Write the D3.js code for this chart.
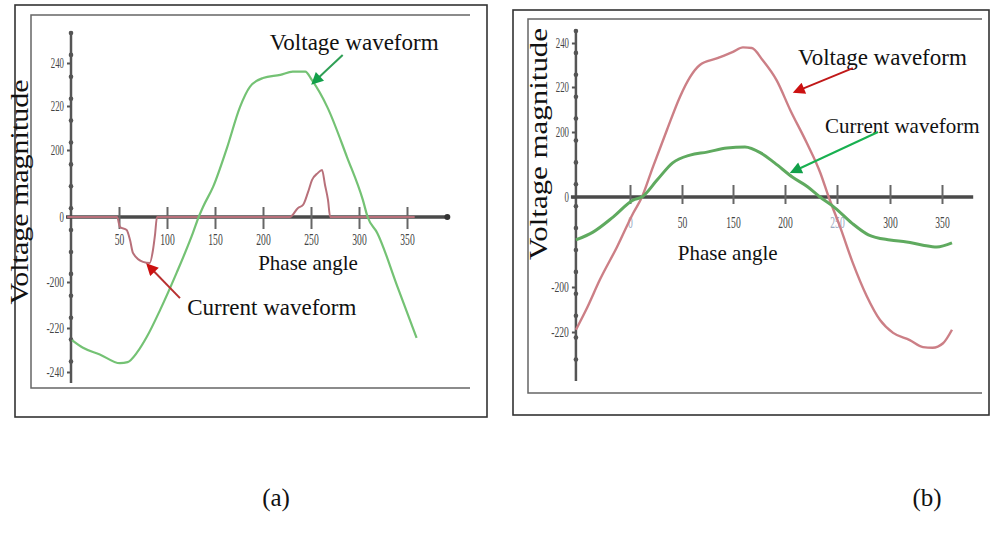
<!DOCTYPE html>
<html>
<head>
<meta charset="utf-8">
<script src="https://cdn.jsdelivr.net/npm/d3@7"></script>
<style>
body { margin: 0; background: #fff; }
svg { display: block; font-family: "Liberation Serif", "Times New Roman", serif; }
</style>
</head>
<body>
<div id="chart"></div>
<script>
// ---- panel (a) ----
var xTicksA = [50, 100, 150, 200, 250, 300, 350];
var yTicksA = [-240, -220, -200, 0, 200, 220, 240];
var voltPhaseA = [1, 12.5, 30, 51, 59, 69, 79, 93, 110, 127, 133, 137.5, 148, 162.5, 176, 186.5, 200, 218, 231, 244, 251, 267, 287.5, 304, 309, 319, 340, 360];
var voltA = [-225.5, -229, -232, -236, -235.5, -231, -224, -212, -172, -49, 0, 30, 90, 201, 219.5, 229, 233, 234.5, 236, 236, 232, 219.5, 179, 51, 0, -49, -202, -224.5];
var currPhaseA = [-4, 48, 51, 58, 61.5, 64.6, 75, 82, 85.4, 87.5, 89.6, 228, 236.5, 241.7, 247, 251, 257, 261.5, 264.6, 267.7, 270, 358];
var currA = [0, 0, -31, -40, -71, -111, -138, -141.5, -101.5, -55, 0, 0, 27, 36, 75, 110, 131, 140, 95.5, 51, 0, 0];

// ---- panel (b) ----
var xTicksB = [0, 50, 150, 200, 250, 300, 350];
var yTicksB = [-220, -200, 0, 200, 220, 240];
var voltPhaseB = [-52, -41, -29, -12.5, 3, 11.5, 22, 35.6, 48, 65.7, 85, 118, 150, 159.6, 168, 178.8, 192, 205, 221, 234, 242, 253, 265, 278, 290.6, 303, 319, 331.7, 341, 351, 359.6];
var voltB = [-219, -209, -184, -111, -36, 0, 92, 201, 215.6, 224.5, 230, 233, 236, 238, 237.7, 232, 223, 209.8, 166, 74, 0, -67, -147, -204, -214.7, -220.4, -223.6, -226.7, -227, -225, -219];
var currPhaseB = [-52, -35.6, -16, 3, 11.5, 26, 41, 65.7, 99, 138, 161.5, 177, 190, 207, 222, 233.6, 248, 264, 279.6, 300, 316, 331.7, 345, 359.6];
var currB = [-95.5, -78, -44, -7, 0, 52, 105, 129, 138, 151, 154, 135, 105, 61.5, 31, 0, -24, -58, -84, -95.5, -100, -107, -111, -102];

var W = 990, H = 537;
var svg = d3.select("#chart").append("svg")
    .attr("width", W)
    .attr("height", H);

var defs = svg.append("defs");
function arrowMarker(id, color) {
  defs.append("marker")
      .attr("id", id)
      .attr("viewBox", "0 0 10 10")
      .attr("refX", 8).attr("refY", 5)
      .attr("markerWidth", 7).attr("markerHeight", 6)
      .attr("markerUnits", "strokeWidth")
      .attr("orient", "auto")
    .append("path")
      .attr("d", "M0,0 L10,5 L0,10 z")
      .attr("fill", color);
}
arrowMarker("arrGreen", "#12a04a");
arrowMarker("arrRed", "#cc1010");

function zip(xs, ys) {
  return xs.map(function(x, i) { return {x: x, y: ys[i]}; });
}

function drawPanel(cfg) {
  var g = svg.append("g");
  var x = d3.scaleLinear().domain(cfg.xDomain).range(cfg.xRange);
  var y = d3.scaleLinear().domain(cfg.yDomain).range(cfg.yRange);

  // frames
  var f = cfg.frame;
  g.append("rect")
      .attr("x", f.outer[0]).attr("y", f.outer[1])
      .attr("width", f.outer[2] - f.outer[0]).attr("height", f.outer[3] - f.outer[1])
      .attr("fill", "none").attr("stroke", "#333").attr("stroke-width", 1.6);
  g.append("path")
      .attr("d", "M" + f.inner[2] + "," + f.inner[1] + "H" + f.inner[0] + "V" + f.inner[3] + "H" + f.inner[2])
      .attr("fill", "none").attr("stroke", "#666").attr("stroke-width", 1.5);

  var x0 = x(cfg.yAxisAt);
  var yZero = y(0);

  // y axis with bead markers
  g.append("line")
      .attr("x1", x0).attr("x2", x0)
      .attr("y1", cfg.yAxisExtent[0]).attr("y2", cfg.yAxisExtent[1])
      .attr("stroke", "#555").attr("stroke-width", 2.5);
  g.selectAll(".bead")
      .data(d3.range(cfg.yAxisExtent[0] + 2, cfg.yAxisExtent[1], 21.9))
    .enter().append("circle")
      .attr("cx", x0).attr("cy", function(d) { return d; })
      .attr("r", 2.3).attr("fill", "#555");

  var yAxis = d3.axisLeft(y)
      .tickValues(cfg.yTicks)
      .tickSize(4)
      .tickPadding(3)
      .tickFormat(function(d) { return String(d); });
  var ya = g.append("g")
      .attr("transform", "translate(" + x0 + ",0)")
      .call(yAxis);
  ya.select(".domain").remove();
  ya.selectAll(".tick line").attr("stroke", "#555").attr("stroke-width", 2);
  ya.selectAll(".tick text")
      .attr("font-family", "Liberation Serif, serif")
      .attr("font-size", 15)
      .attr("fill", "#444")
      .attr("textLength", function(d) { return String(d).length * 4.4; })
      .attr("lengthAdjust", "spacingAndGlyphs");

  // x axis line
  g.append("line")
      .attr("x1", x0 - 5).attr("x2", x(cfg.xAxisEnd))
      .attr("y1", yZero).attr("y2", yZero)
      .attr("stroke", "#4a4a4a").attr("stroke-width", 3.5);
  if (cfg.arrowDot) {
    g.append("circle")
        .attr("cx", x(cfg.xAxisEnd)).attr("cy", yZero)
        .attr("r", 3).attr("fill", "#333");
  }
  var xAxis = d3.axisBottom(x)
      .tickValues(cfg.xTicks)
      .tickSize(0)
      .tickPadding(cfg.xLabelPad)
      .tickFormat(function(d) { return String(d); });
  var xa = g.append("g")
      .attr("transform", "translate(0," + yZero + ")")
      .call(xAxis);
  xa.select(".domain").remove();
  xa.selectAll(".tick").append("line")
      .attr("y1", -cfg.xTickUp).attr("y2", cfg.xTickDown)
      .attr("stroke", "#666").attr("stroke-width", 2);
  xa.selectAll(".tick text")
      .attr("font-family", "Liberation Serif, serif")
      .attr("font-size", 16)
      .attr("fill", function(d) { return cfg.fadedX.indexOf(d) >= 0 ? "#9aa8c0" : "#444"; })
      .attr("textLength", function(d) { return String(d).length * 4.8; })
      .attr("lengthAdjust", "spacingAndGlyphs");

  // waveforms
  var line = d3.line()
      .x(function(d) { return x(d.x); })
      .y(function(d) { return y(d.y); })
      .curve(d3.curveMonotoneX);
  cfg.series.forEach(function(s) {
    g.append("path")
        .datum(zip(s.phase, s.values))
        .attr("fill", "none")
        .attr("stroke", s.color)
        .attr("stroke-width", s.width)
        .attr("stroke-linejoin", "round")
        .attr("d", line);
  });

  // annotations
  cfg.labels.forEach(function(l) {
    g.append("text")
        .attr("x", x(l.x)).attr("y", y(l.y))
        .attr("font-size", l.size)
        .attr("fill", "#111")
        .text(l.text);
  });
  cfg.arrows.forEach(function(a) {
    g.append("line")
        .attr("x1", x(a.from[0])).attr("y1", y(a.from[1]))
        .attr("x2", x(a.to[0])).attr("y2", y(a.to[1]))
        .attr("stroke", a.color).attr("stroke-width", 2)
        .attr("marker-end", "url(#" + a.marker + ")");
  });

  // rotated y label
  g.append("text")
      .attr("transform", "translate(" + cfg.yLabelPos[0] + "," + cfg.yLabelPos[1] + ") rotate(-90)")
      .attr("text-anchor", "middle")
      .attr("font-size", 25)
      .attr("fill", "#111")
      .attr("textLength", cfg.yLabelLen)
      .attr("lengthAdjust", "spacingAndGlyphs")
      .text("Voltage magnitude");
}

drawPanel({
  xDomain: [0, 350], xRange: [71, 71 + 350 * 0.96],
  yDomain: yTicksA, yRange: [372, 328, 282, 217, 150, 106, 63],
  frame: {outer: [15, 5, 487, 417], inner: [31, 15, 470, 388]},
  yAxisAt: 0, yAxisExtent: [31, 383],
  xAxisEnd: 392, arrowDot: true,
  xTicks: xTicksA, yTicks: yTicksA, fadedX: [],
  xLabelPad: 17, xTickUp: 10, xTickDown: 12,
  series: [
    {phase: currPhaseA, values: currA, color: "#b8707a", width: 2},
    {phase: voltPhaseA, values: voltA, color: "#74c274", width: 2.2}
  ],
  labels: [
    {text: "Voltage waveform", x: 207, y: 246, size: 23},
    {text: "Phase angle", x: 195, y: -163, size: 21},
    {text: "Current waveform", x: 121, y: -214.3, size: 23}
  ],
  arrows: [
    {from: [283, 243.7], to: [252, 230.7], color: "#2f9f55", marker: "arrGreen"},
    {from: [113.5, -207], to: [80, -147.7], color: "#b83030", marker: "arrRed"}
  ],
  yLabelPos: [28, 192], yLabelLen: 225
});

drawPanel({
  xDomain: xTicksB, xRange: [630, 682, 733, 785, 837, 890, 942],
  yDomain: yTicksB, yRange: [332, 287, 197, 132, 87, 43],
  frame: {outer: [513, 10, 989, 415], inner: [528, 19, 982, 393]},
  yAxisAt: -52, yAxisExtent: [29, 381],
  xAxisEnd: 380, arrowDot: false,
  xTicks: xTicksB, yTicks: yTicksB, fadedX: [0, 250],
  xLabelPad: 20, xTickUp: 12, xTickDown: 7,
  series: [
    {phase: voltPhaseB, values: voltB, color: "#cc7f86", width: 2.4},
    {phase: currPhaseB, values: currB, color: "#5faa5f", width: 3}
  ],
  labels: [
    {text: "Voltage waveform", x: 212.5, y: 230, size: 23},
    {text: "Current waveform", x: 238.5, y: 197, size: 21},
    {text: "Phase angle", x: 46, y: -140, size: 21}
  ],
  arrows: [
    {from: [265, 228.6], to: [209.6, 217.8], color: "#c01818", marker: "arrRed"},
    {from: [288.7, 200], to: [206.7, 77], color: "#18b050", marker: "arrGreen"}
  ],
  yLabelPos: [547, 144], yLabelLen: 232
});

// captions
svg.selectAll(".caption")
    .data([{t: "(a)", x: 276}, {t: "(b)", x: 927}])
  .enter().append("text")
    .attr("class", "caption")
    .attr("x", function(d) { return d.x; })
    .attr("y", 506)
    .attr("text-anchor", "middle")
    .attr("font-size", 25)
    .attr("fill", "#111")
    .text(function(d) { return d.t; });
</script>
</body>
</html>
